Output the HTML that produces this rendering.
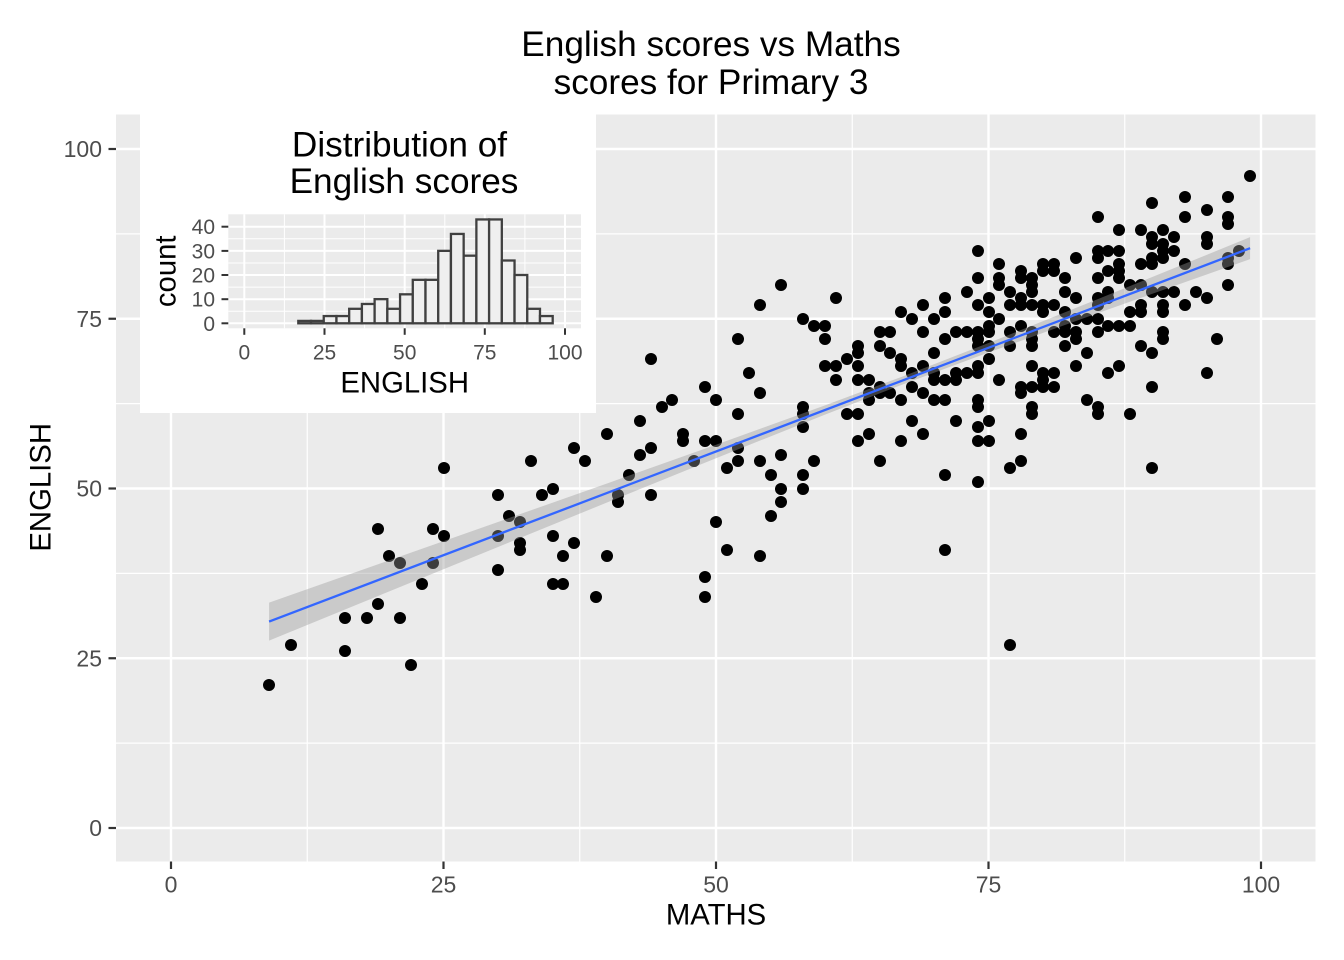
<!DOCTYPE html>
<html><head><meta charset="utf-8"><style>
html,body{margin:0;padding:0;background:#fff}
#c{position:relative;width:1344px;height:960px;overflow:hidden;background:#fff;font-family:"Liberation Sans",Arial,sans-serif}
svg{position:absolute;left:0;top:0}
#pts i{position:absolute;width:12px;height:12px;margin:-6px 0 0 -6px;border-radius:50%;background:#000;left:calc(171px + var(--x) * 10.9px);top:calc(828px - var(--y) * 6.79px)}
text{font-family:"Liberation Sans",Arial,sans-serif}
</style></head><body><div id="c">
<svg width="1344" height="960">
<rect x="116" y="114.5" width="1199.5" height="747" fill="#EBEBEB"/>
<g stroke="#fff" stroke-width="1.2">
<line x1="307.25" y1="114.5" x2="307.25" y2="861.5"/><line x1="579.75" y1="114.5" x2="579.75" y2="861.5"/><line x1="852.25" y1="114.5" x2="852.25" y2="861.5"/><line x1="1124.75" y1="114.5" x2="1124.75" y2="861.5"/>
<line x1="116" y1="743.1" x2="1315.5" y2="743.1"/><line x1="116" y1="573.4" x2="1315.5" y2="573.4"/><line x1="116" y1="403.6" x2="1315.5" y2="403.6"/><line x1="116" y1="233.9" x2="1315.5" y2="233.9"/>
</g>
<g stroke="#fff" stroke-width="2.4">
<line x1="171" y1="114.5" x2="171" y2="861.5"/><line x1="443.5" y1="114.5" x2="443.5" y2="861.5"/><line x1="716" y1="114.5" x2="716" y2="861.5"/><line x1="988.5" y1="114.5" x2="988.5" y2="861.5"/><line x1="1261" y1="114.5" x2="1261" y2="861.5"/>
<line x1="116" y1="828" x2="1315.5" y2="828"/><line x1="116" y1="658.25" x2="1315.5" y2="658.25"/><line x1="116" y1="488.5" x2="1315.5" y2="488.5"/><line x1="116" y1="318.75" x2="1315.5" y2="318.75"/><line x1="116" y1="149" x2="1315.5" y2="149"/>
</g>
<g stroke="#333" stroke-width="2.2">
<line x1="108.5" y1="828" x2="116" y2="828"/><line x1="108.5" y1="658.25" x2="116" y2="658.25"/><line x1="108.5" y1="488.5" x2="116" y2="488.5"/><line x1="108.5" y1="318.75" x2="116" y2="318.75"/><line x1="108.5" y1="149" x2="116" y2="149"/>
<line x1="171" y1="861.5" x2="171" y2="869"/><line x1="443.5" y1="861.5" x2="443.5" y2="869"/><line x1="716" y1="861.5" x2="716" y2="869"/><line x1="988.5" y1="861.5" x2="988.5" y2="869"/><line x1="1261" y1="861.5" x2="1261" y2="869"/>
</g>
<g fill="#4D4D4D" font-size="23" text-anchor="end">
<text x="102" y="836.2">0</text><text x="102" y="666.5">25</text><text x="102" y="496.7">50</text><text x="102" y="327">75</text><text x="102" y="157.2">100</text>
</g>
<g fill="#4D4D4D" font-size="23" text-anchor="middle">
<text x="171" y="892.3">0</text><text x="443.5" y="892.3">25</text><text x="716" y="892.3">50</text><text x="988.5" y="892.3">75</text><text x="1261" y="892.3">100</text>
</g>
<text x="716" y="924.5" font-size="29.3" text-anchor="middle" fill="#000">MATHS</text>
<text transform="translate(50.7,487.3) rotate(-90)" font-size="29.3" text-anchor="middle" fill="#000">ENGLISH</text>
<text x="711" y="56" font-size="35.2" text-anchor="middle" fill="#000">English scores vs Maths</text>
<text x="711" y="94" font-size="35.2" text-anchor="middle" fill="#000">scores for Primary 3</text>
</svg>
<div id="pts">
<i style="--x:9;--y:21"></i><i style="--x:11;--y:27"></i><i style="--x:16;--y:31"></i><i style="--x:16;--y:26"></i><i style="--x:18;--y:31"></i><i style="--x:19;--y:33"></i><i style="--x:21;--y:31"></i><i style="--x:22;--y:24"></i><i style="--x:19;--y:44"></i><i style="--x:20;--y:40"></i><i style="--x:21;--y:39"></i><i style="--x:23;--y:36"></i><i style="--x:24;--y:44"></i><i style="--x:24;--y:39"></i><i style="--x:25;--y:43"></i><i style="--x:25;--y:53"></i><i style="--x:30;--y:49"></i><i style="--x:30;--y:43"></i><i style="--x:30;--y:38"></i><i style="--x:31;--y:46"></i><i style="--x:32;--y:45"></i><i style="--x:32;--y:42"></i><i style="--x:32;--y:41"></i><i style="--x:33;--y:54"></i><i style="--x:34;--y:49"></i><i style="--x:35;--y:50"></i><i style="--x:35;--y:43"></i><i style="--x:35;--y:36"></i>
<i style="--x:37;--y:56"></i><i style="--x:38;--y:54"></i><i style="--x:37;--y:42"></i><i style="--x:36;--y:40"></i><i style="--x:36;--y:36"></i><i style="--x:39;--y:34"></i><i style="--x:40;--y:58"></i><i style="--x:40;--y:40"></i><i style="--x:41;--y:49"></i><i style="--x:41;--y:48"></i><i style="--x:42;--y:52"></i><i style="--x:43;--y:60"></i><i style="--x:43;--y:55"></i><i style="--x:44;--y:56"></i><i style="--x:44;--y:49"></i><i style="--x:44;--y:69"></i><i style="--x:45;--y:62"></i><i style="--x:46;--y:63"></i><i style="--x:47;--y:58"></i><i style="--x:47;--y:57"></i><i style="--x:48;--y:54"></i><i style="--x:49;--y:65"></i><i style="--x:49;--y:57"></i><i style="--x:49;--y:37"></i><i style="--x:49;--y:34"></i><i style="--x:50;--y:63"></i><i style="--x:50;--y:57"></i><i style="--x:50;--y:45"></i><i style="--x:51;--y:53"></i><i style="--x:51;--y:41"></i><i style="--x:52;--y:72"></i><i style="--x:52;--y:61"></i><i style="--x:52;--y:56"></i><i style="--x:52;--y:54"></i><i style="--x:53;--y:67"></i><i style="--x:54;--y:77"></i><i style="--x:54;--y:64"></i><i style="--x:54;--y:54"></i><i style="--x:54;--y:40"></i><i style="--x:55;--y:52"></i><i style="--x:55;--y:46"></i><i style="--x:56;--y:80"></i><i style="--x:56;--y:55"></i><i style="--x:56;--y:50"></i><i style="--x:56;--y:48"></i><i style="--x:58;--y:75"></i><i style="--x:58;--y:62"></i><i style="--x:58;--y:61"></i><i style="--x:58;--y:59"></i><i style="--x:58;--y:52"></i><i style="--x:58;--y:50"></i><i style="--x:59;--y:74"></i><i style="--x:59;--y:54"></i><i style="--x:60;--y:74"></i><i style="--x:60;--y:72"></i><i style="--x:60;--y:68"></i><i style="--x:61;--y:78"></i><i style="--x:61;--y:68"></i><i style="--x:61;--y:66"></i>
<i style="--x:74;--y:85"></i><i style="--x:76;--y:83"></i><i style="--x:78;--y:82"></i><i style="--x:80;--y:83"></i><i style="--x:74;--y:81"></i><i style="--x:76;--y:81"></i><i style="--x:76;--y:80"></i><i style="--x:78;--y:81"></i><i style="--x:79;--y:81"></i><i style="--x:79;--y:80"></i><i style="--x:79;--y:79"></i><i style="--x:73;--y:79"></i><i style="--x:77;--y:79"></i><i style="--x:71;--y:78"></i><i style="--x:69;--y:77"></i><i style="--x:74;--y:77"></i><i style="--x:75;--y:78"></i><i style="--x:77;--y:77"></i><i style="--x:78;--y:78"></i><i style="--x:78;--y:77"></i><i style="--x:79;--y:77"></i><i style="--x:80;--y:77"></i><i style="--x:67;--y:76"></i><i style="--x:71;--y:76"></i><i style="--x:75;--y:76"></i><i style="--x:68;--y:75"></i><i style="--x:70;--y:75"></i><i style="--x:76;--y:75"></i><i style="--x:65;--y:73"></i><i style="--x:66;--y:73"></i><i style="--x:69;--y:73"></i><i style="--x:72;--y:73"></i><i style="--x:73;--y:73"></i><i style="--x:74;--y:73"></i><i style="--x:75;--y:74"></i><i style="--x:75;--y:73"></i><i style="--x:77;--y:73"></i><i style="--x:78;--y:74"></i><i style="--x:79;--y:73"></i><i style="--x:71;--y:72"></i><i style="--x:74;--y:72"></i><i style="--x:74;--y:71"></i><i style="--x:75;--y:71"></i><i style="--x:77;--y:71"></i><i style="--x:79;--y:72"></i><i style="--x:79;--y:71"></i><i style="--x:63;--y:71"></i><i style="--x:63;--y:70"></i><i style="--x:65;--y:71"></i><i style="--x:70;--y:70"></i><i style="--x:66;--y:70"></i><i style="--x:62;--y:69"></i><i style="--x:63;--y:68"></i><i style="--x:67;--y:69"></i><i style="--x:67;--y:68"></i><i style="--x:69;--y:68"></i><i style="--x:68;--y:67"></i><i style="--x:74;--y:68"></i><i style="--x:74;--y:67"></i><i style="--x:75;--y:69"></i><i style="--x:63;--y:66"></i><i style="--x:64;--y:66"></i><i style="--x:70;--y:67"></i><i style="--x:70;--y:66"></i><i style="--x:71;--y:66"></i><i style="--x:72;--y:67"></i><i style="--x:72;--y:66"></i><i style="--x:73;--y:67"></i><i style="--x:76;--y:66"></i><i style="--x:78;--y:65"></i><i style="--x:78;--y:64"></i><i style="--x:79;--y:65"></i><i style="--x:80;--y:65"></i><i style="--x:79;--y:68"></i><i style="--x:64;--y:64"></i><i style="--x:65;--y:65"></i><i style="--x:65;--y:64"></i><i style="--x:66;--y:64"></i><i style="--x:68;--y:65"></i><i style="--x:69;--y:64"></i><i style="--x:64;--y:63"></i><i style="--x:67;--y:63"></i><i style="--x:70;--y:63"></i><i style="--x:71;--y:63"></i><i style="--x:74;--y:63"></i><i style="--x:74;--y:62"></i><i style="--x:79;--y:62"></i><i style="--x:79;--y:61"></i><i style="--x:62;--y:61"></i><i style="--x:63;--y:61"></i><i style="--x:68;--y:60"></i><i style="--x:72;--y:60"></i><i style="--x:74;--y:59"></i><i style="--x:75;--y:60"></i><i style="--x:64;--y:58"></i><i style="--x:69;--y:58"></i><i style="--x:78;--y:58"></i><i style="--x:63;--y:57"></i><i style="--x:67;--y:57"></i><i style="--x:74;--y:57"></i><i style="--x:75;--y:57"></i><i style="--x:65;--y:54"></i><i style="--x:78;--y:54"></i>
<i style="--x:83;--y:84"></i><i style="--x:85;--y:84"></i><i style="--x:85;--y:85"></i><i style="--x:86;--y:85"></i><i style="--x:87;--y:85"></i><i style="--x:81;--y:83"></i><i style="--x:80;--y:82"></i><i style="--x:81;--y:82"></i><i style="--x:87;--y:83"></i><i style="--x:87;--y:82"></i><i style="--x:86;--y:82"></i><i style="--x:89;--y:83"></i><i style="--x:90;--y:84"></i><i style="--x:90;--y:83"></i><i style="--x:91;--y:84"></i><i style="--x:92;--y:85"></i><i style="--x:93;--y:83"></i><i style="--x:97;--y:84"></i><i style="--x:97;--y:83"></i><i style="--x:98;--y:85"></i><i style="--x:97;--y:80"></i><i style="--x:82;--y:81"></i><i style="--x:85;--y:81"></i><i style="--x:87;--y:81"></i><i style="--x:86;--y:79"></i><i style="--x:82;--y:79"></i><i style="--x:83;--y:78"></i><i style="--x:88;--y:80"></i><i style="--x:89;--y:80"></i><i style="--x:90;--y:79"></i><i style="--x:91;--y:79"></i><i style="--x:92;--y:79"></i><i style="--x:94;--y:79"></i><i style="--x:95;--y:78"></i><i style="--x:81;--y:77"></i><i style="--x:80;--y:76"></i><i style="--x:85;--y:78"></i><i style="--x:85;--y:77"></i><i style="--x:86;--y:78"></i><i style="--x:82;--y:76"></i><i style="--x:89;--y:77"></i><i style="--x:89;--y:76"></i><i style="--x:88;--y:76"></i><i style="--x:91;--y:77"></i><i style="--x:91;--y:76"></i><i style="--x:93;--y:77"></i><i style="--x:83;--y:75"></i><i style="--x:84;--y:75"></i><i style="--x:85;--y:75"></i><i style="--x:82;--y:74"></i><i style="--x:86;--y:74"></i><i style="--x:87;--y:74"></i><i style="--x:88;--y:74"></i><i style="--x:81;--y:73"></i><i style="--x:82;--y:73"></i><i style="--x:83;--y:73"></i><i style="--x:85;--y:73"></i><i style="--x:91;--y:73"></i><i style="--x:91;--y:72"></i><i style="--x:82;--y:71"></i><i style="--x:83;--y:72"></i><i style="--x:96;--y:72"></i><i style="--x:89;--y:71"></i><i style="--x:90;--y:70"></i><i style="--x:84;--y:70"></i><i style="--x:80;--y:67"></i><i style="--x:81;--y:67"></i><i style="--x:83;--y:68"></i><i style="--x:87;--y:68"></i><i style="--x:86;--y:67"></i><i style="--x:95;--y:67"></i><i style="--x:80;--y:66"></i><i style="--x:81;--y:65"></i><i style="--x:90;--y:65"></i><i style="--x:84;--y:63"></i><i style="--x:85;--y:62"></i><i style="--x:85;--y:61"></i><i style="--x:88;--y:61"></i>
<i style="--x:71;--y:52"></i><i style="--x:74;--y:51"></i><i style="--x:77;--y:53"></i><i style="--x:90;--y:53"></i><i style="--x:71;--y:41"></i><i style="--x:77;--y:27"></i>
<i style="--x:99;--y:96"></i><i style="--x:93;--y:93"></i><i style="--x:97;--y:93"></i><i style="--x:90;--y:92"></i><i style="--x:95;--y:91"></i><i style="--x:93;--y:90"></i><i style="--x:97;--y:90"></i><i style="--x:97;--y:89"></i><i style="--x:85;--y:90"></i><i style="--x:87;--y:88"></i><i style="--x:89;--y:88"></i><i style="--x:91;--y:88"></i><i style="--x:90;--y:87"></i><i style="--x:92;--y:87"></i><i style="--x:95;--y:87"></i><i style="--x:90;--y:86"></i><i style="--x:91;--y:86"></i><i style="--x:95;--y:86"></i><i style="--x:91;--y:85"></i>
</div>
<svg width="1344" height="960">
<polygon fill="#999999" fill-opacity="0.4" points="269.1,602.6 389,560.4 498,521.95 607,483.44 716,444.72 825,405.4 901.3,376.95 988.5,343.01 1097.5,299.25 1173.8,268.27 1250.1,237.18 1250.1,259.18 1173.8,286.17 1097.5,313.29 988.5,352.51 901.3,384.95 825,414.58 716,458.24 607,502.5 498,546.97 389,591.5 269.1,640.6"/>
<line x1="269.1" y1="621.6" x2="1250.1" y2="248.2" stroke="#3366FF" stroke-width="2.3"/>
<rect x="140" y="114" width="456" height="299" fill="#fff"/>
<rect x="228.3" y="214.3" width="352.7" height="114" fill="#EBEBEB"/>
<g stroke="#fff" stroke-width="1">
<line x1="284.4" y1="214.3" x2="284.4" y2="328.3"/><line x1="364.6" y1="214.3" x2="364.6" y2="328.3"/><line x1="444.8" y1="214.3" x2="444.8" y2="328.3"/><line x1="524.9" y1="214.3" x2="524.9" y2="328.3"/>
<line x1="228.3" y1="311.2" x2="581" y2="311.2"/><line x1="228.3" y1="287.1" x2="581" y2="287.1"/><line x1="228.3" y1="263" x2="581" y2="263"/><line x1="228.3" y1="238.8" x2="581" y2="238.8"/>
</g>
<g stroke="#fff" stroke-width="2">
<line x1="244.3" y1="214.3" x2="244.3" y2="328.3"/><line x1="324.5" y1="214.3" x2="324.5" y2="328.3"/><line x1="404.7" y1="214.3" x2="404.7" y2="328.3"/><line x1="484.8" y1="214.3" x2="484.8" y2="328.3"/><line x1="565" y1="214.3" x2="565" y2="328.3"/>
<line x1="228.3" y1="323.3" x2="581" y2="323.3"/><line x1="228.3" y1="299.2" x2="581" y2="299.2"/><line x1="228.3" y1="275" x2="581" y2="275"/><line x1="228.3" y1="250.9" x2="581" y2="250.9"/><line x1="228.3" y1="226.7" x2="581" y2="226.7"/>
</g>
<g fill="#EFEFEF" stroke="#404040" stroke-width="2.3">
<rect x="298.3" y="320.9" width="12.72" height="2.4"/>
<rect x="311.02" y="320.9" width="12.72" height="2.4"/>
<rect x="323.74" y="316.06" width="12.72" height="7.24"/>
<rect x="336.46" y="316.06" width="12.72" height="7.24"/>
<rect x="349.18" y="308.81" width="12.72" height="14.49"/>
<rect x="361.9" y="303.98" width="12.72" height="19.32"/>
<rect x="374.62" y="299.15" width="12.72" height="24.15"/>
<rect x="387.34" y="308.81" width="12.72" height="14.49"/>
<rect x="400.06" y="294.32" width="12.72" height="28.98"/>
<rect x="412.78" y="279.83" width="12.72" height="43.47"/>
<rect x="425.5" y="279.83" width="12.72" height="43.47"/>
<rect x="438.22" y="250.85" width="12.72" height="72.45"/>
<rect x="450.94" y="233.94" width="12.72" height="89.36"/>
<rect x="463.66" y="255.68" width="12.72" height="67.62"/>
<rect x="476.38" y="219.45" width="12.72" height="103.85"/>
<rect x="489.1" y="219.45" width="12.72" height="103.85"/>
<rect x="501.82" y="260.51" width="12.72" height="62.79"/>
<rect x="514.54" y="275" width="12.72" height="48.3"/>
<rect x="527.26" y="308.81" width="12.72" height="14.49"/>
<rect x="539.98" y="316.06" width="12.72" height="7.24"/>
</g>
<g stroke="#333" stroke-width="2">
<line x1="221.5" y1="323.3" x2="228.3" y2="323.3"/><line x1="221.5" y1="299.2" x2="228.3" y2="299.2"/><line x1="221.5" y1="275" x2="228.3" y2="275"/><line x1="221.5" y1="250.9" x2="228.3" y2="250.9"/><line x1="221.5" y1="226.7" x2="228.3" y2="226.7"/>
<line x1="244.3" y1="328.3" x2="244.3" y2="334.8"/><line x1="324.5" y1="328.3" x2="324.5" y2="334.8"/><line x1="404.7" y1="328.3" x2="404.7" y2="334.8"/><line x1="484.8" y1="328.3" x2="484.8" y2="334.8"/><line x1="565" y1="328.3" x2="565" y2="334.8"/>
</g>
<g fill="#4D4D4D" font-size="21" text-anchor="end">
<text x="215" y="330.8">0</text><text x="215" y="306.7">10</text><text x="215" y="282.5">20</text><text x="215" y="258.4">30</text><text x="215" y="234.2">40</text>
</g>
<g fill="#4D4D4D" font-size="21" text-anchor="middle">
<text x="244.3" y="359.3">0</text><text x="324.5" y="359.3">25</text><text x="404.7" y="359.3">50</text><text x="484.8" y="359.3">75</text><text x="565" y="359.3">100</text>
</g>
<text x="404.7" y="392.7" font-size="29.3" text-anchor="middle" fill="#000">ENGLISH</text>
<text transform="translate(175.5,271.3) rotate(-90)" font-size="29.3" text-anchor="middle" fill="#000">count</text>
<text x="399.5" y="156.3" font-size="35.2" text-anchor="middle" fill="#000">Distribution of</text>
<text x="404" y="193" font-size="35.2" text-anchor="middle" fill="#000">English scores</text>
</svg>
</div></body></html>
